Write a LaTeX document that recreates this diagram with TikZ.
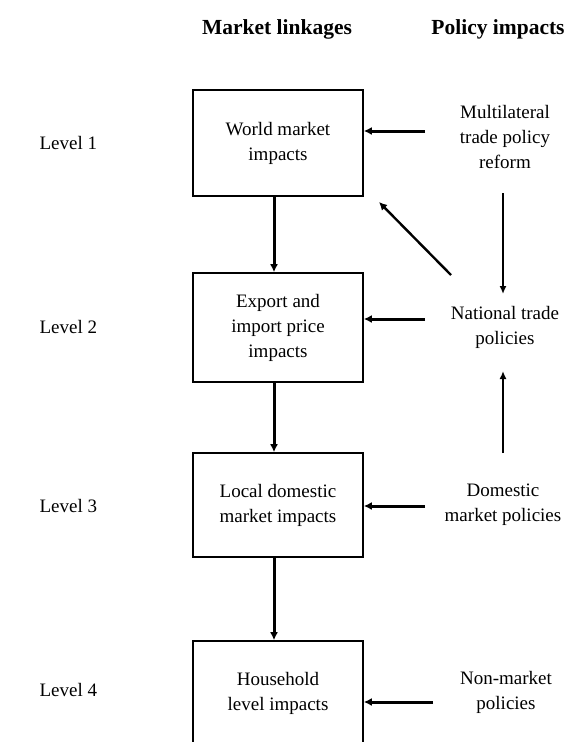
\documentclass[tikz,border=0pt]{standalone}
\usepackage{fontspec}
\setmainfont{Liberation Serif}
\usepackage{tikz}
\usetikzlibrary{arrows.meta,positioning,calc}
\tikzset{
  levelbox/.style = {draw, line width=1.6pt, rectangle, minimum width=170pt,
                     minimum height=106pt, align=center, inner sep=0pt},
  plabel/.style   = {align=center, inner sep=0pt},
  sig/.style      = {-{Latex[length=8pt,width=8pt]}, line width=3pt},
  thinsig/.style  = {-{Latex[length=8pt,width=7pt]}, line width=1.6pt},
}

\begin{document}
\begin{tikzpicture}[x=1pt,y=-1pt,font=\fontsize{19}{25}\selectfont]
\clip (0,0) rectangle (570,742);
% headings
\node[font=\fontsize{21.5}{24}\selectfont\bfseries] (hmark) at (277,29) {Market linkages};
\node[font=\fontsize{21.5}{24}\selectfont\bfseries] (hpol) at (498,29) {Policy impacts};
% levels
\foreach \y/\n in {143/1, 327/2, 506/3, 690/4}{
  \node[anchor=west] (lev\n) at (36,\y) {Level \n};}
% market linkage boxes
\node[levelbox] (box1) at (278,143) {World market\\impacts};
\node[levelbox,minimum height=109pt] (box2) at (278,327.5) {Export and\\import price\\impacts};
\node[levelbox,minimum height=104pt] (box3) at (278,505) {Local domestic\\market impacts};
\node[levelbox,minimum height=104pt] (box4) at (278,693) {Household\\level impacts};
% policy labels
\node[plabel] (pol1) at (505,137) {Multilateral\\trade policy\\reform};
\node[plabel] (pol2) at (505,327) {National trade\\policies};
\node[plabel] (pol3) at (503,505) {Domestic\\market policies};
\node[plabel] (pol4) at (506,692) {Non-market\\policies};
% arrow starts
\coordinate (s1) at (425,131);
\coordinate (s2) at (425,319);
\coordinate (s3) at (425,506);
\coordinate (s4) at (433,702);
\draw[sig] (s1) -- (s1 -| box1.east);
\draw[sig] (s2) -- (s2 -| box2.east);
\draw[sig] (s3) -- (s3 -| box3.east);
\draw[sig] (s4) -- (s4 -| box4.east);
% down the market chain
\draw[sig] ([xshift=-4pt]box1.south) -- ([xshift=-4pt]box2.north);
\draw[sig] ([xshift=-4pt]box2.south) -- ([xshift=-4pt]box3.north);
\draw[sig] ([xshift=-4pt]box3.south) -- ([xshift=-4pt]box4.north);
% policy links
\coordinate (r1) at (503,193);
\coordinate (r2) at (503,294);
\coordinate (r3) at (503,453);
\coordinate (r4) at (503,371);
\draw[thinsig] (r1) -- (r2);
\draw[thinsig] (r3) -- (r4);
\coordinate (d1) at (451,275);
\coordinate (d2) at (379,202);
\draw[sig,line width=2.4pt] (d1) -- (d2);
\end{tikzpicture}
\end{document}
